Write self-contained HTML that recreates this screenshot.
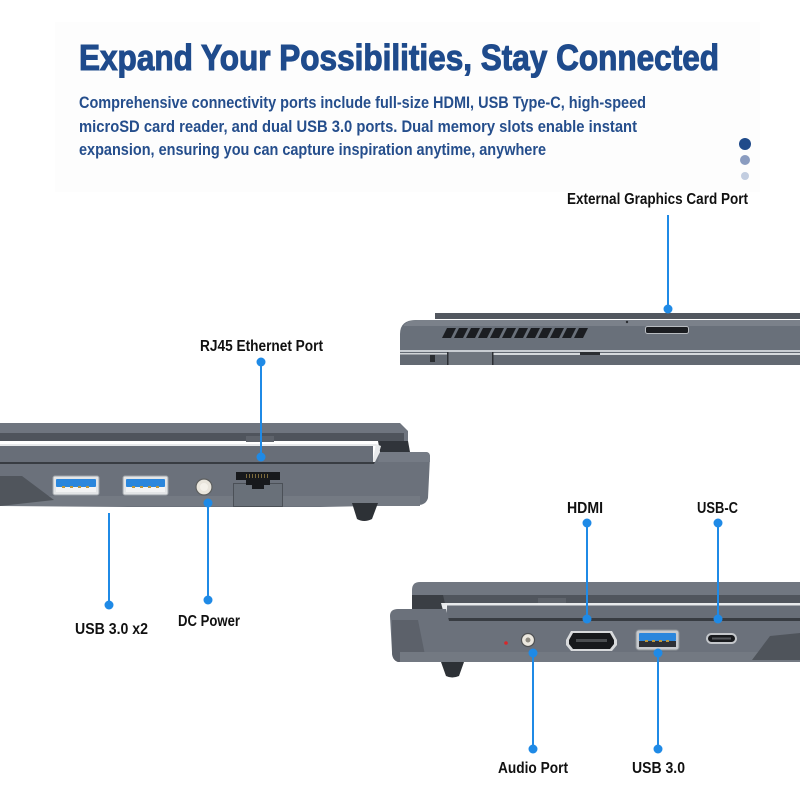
<!DOCTYPE html>
<html><head><meta charset="utf-8"><style>
html,body{margin:0;padding:0;background:#fff;}
svg{display:block;}
.t{font-family:"Liberation Sans",sans-serif;font-weight:bold;}
</style></head><body>
<svg width="800" height="800" viewBox="0 0 800 800" xmlns="http://www.w3.org/2000/svg">
<rect width="800" height="800" fill="#ffffff"/>
<rect x="55" y="22" width="705" height="170" fill="#fdfdfd"/>
<!-- Title -->
<text class="t" x="79" y="70" font-size="36" fill="#1f4b8c" stroke="#1f4b8c" stroke-width="1.1" textLength="640" lengthAdjust="spacingAndGlyphs">Expand Your Possibilities, Stay Connected</text>
<text class="t" x="79" y="108" font-size="17" fill="#254e8c" textLength="567" lengthAdjust="spacingAndGlyphs">Comprehensive connectivity ports include full-size HDMI, USB Type-C, high-speed</text>
<text class="t" x="79" y="132" font-size="17" fill="#254e8c" textLength="558" lengthAdjust="spacingAndGlyphs">microSD card reader, and dual USB 3.0 ports. Dual memory slots enable instant</text>
<text class="t" x="79" y="155" font-size="17" fill="#254e8c" textLength="467" lengthAdjust="spacingAndGlyphs">expansion, ensuring you can capture inspiration anytime, anywhere</text>
<!-- dots -->
<circle cx="745" cy="144" r="6" fill="#1f4a8a"/>
<circle cx="745" cy="160" r="5" fill="#8a9cc0"/>
<circle cx="745" cy="176" r="4" fill="#c2cde0"/>

<!-- ===== Rear laptop (top right) ===== -->
<rect x="435" y="313" width="365" height="6" fill="#52575f"/>
<path d="M400,334 Q400,320 416,320 L800,320 L800,351 L400,351 Z" fill="#69707a"/>
<path d="M404,325 Q408,320 418,320 L800,320 L800,326 L404,326 Z" fill="#7b818a"/>
<rect x="400" y="350" width="400" height="2" fill="#c9cdd2"/>
<rect x="400" y="352" width="400" height="13" fill="#636972"/>
<rect x="448" y="352" width="45" height="13" fill="#70767e"/>
<rect x="493" y="353" width="307" height="2" fill="#d6d9dc"/>
<rect x="400" y="353" width="48" height="1.5" fill="#d0d3d6"/>
<rect x="447" y="352" width="1.5" height="13" fill="#2c2f34"/>
<rect x="492" y="352" width="1.5" height="13" fill="#2c2f34"/>
<rect x="430" y="355" width="5" height="7" fill="#2a2d31"/>
<rect x="580" y="352" width="20" height="3" fill="#2a2d31"/>
<g fill="#1b1d21">
<polygon points="447,328 456,328 451,338 442,338"/>
<polygon points="459,328 468,328 463,338 454,338"/>
<polygon points="471,328 480,328 475,338 466,338"/>
<polygon points="483,328 492,328 487,338 478,338"/>
<polygon points="495,328 504,328 499,338 490,338"/>
<polygon points="507,328 516,328 511,338 502,338"/>
<polygon points="519,328 528,328 523,338 514,338"/>
<polygon points="531,328 540,328 535,338 526,338"/>
<polygon points="543,328 552,328 547,338 538,338"/>
<polygon points="555,328 564,328 559,338 550,338"/>
<polygon points="567,328 576,328 571,338 562,338"/>
<polygon points="579,328 588,328 583,338 574,338"/>
</g>
<rect x="645.5" y="326.5" width="43" height="7" rx="2" fill="#1b1d21" stroke="#b8bcc1" stroke-width="1"/>
<circle cx="627" cy="322" r="1.2" fill="#2a2d31"/>

<!-- ===== Left laptop (side) ===== -->
<path d="M0,423 L400,423 L408,431 L408,441 L0,441 Z" fill="#6f757f"/>
<rect x="0" y="433" width="404" height="8" fill="#4f545c"/>
<rect x="246" y="436" width="28" height="6" fill="#5e636b"/>
<path d="M378,441 L408,441 L410,452 L380,452 Z" fill="#30343a"/>
<rect x="0" y="444" width="376" height="2" fill="#e8eaec"/>
<path d="M376,444 L381,446 L376,464 L372,464 Z" fill="#e8eaec"/>
<rect x="0" y="446" width="373" height="16" fill="#686e78"/>
<rect x="0" y="462" width="375" height="2.5" fill="#383c42"/>
<path d="M0,464 L374,464 L380,452 L426,452 Q430,452 430,457 L428,498 Q426,505 418,505 L320,507 L130,507 L0,506 Z" fill="#6b717b"/>
<path d="M380,452 L426,452 Q430,452 430,457 L430,462 L378,462 Z" fill="#757b85"/>
<rect x="0" y="496" width="420" height="10" fill="#747a83"/>
<path d="M0,476 L22,476 L54,500 L0,506 Z" fill="#50555c"/>
<path d="M352,503 L378,503 L372,519 Q364,523 357,519 Z" fill="#2d3136"/>
<!-- USB ports -->
<g>
<rect x="53" y="476" width="46" height="19" rx="2" fill="#e3e5e7" stroke="#9ea3a8" stroke-width="1"/>
<rect x="56" y="479" width="40" height="8" rx="1" fill="#2a86dc"/>
<rect x="56" y="487" width="40" height="5" fill="#f2f3f4"/>
<g fill="#b8963e"><rect x="62" y="486" width="3" height="2"/><rect x="70" y="486" width="3" height="2"/><rect x="78" y="486" width="3" height="2"/><rect x="86" y="486" width="3" height="2"/></g>
<rect x="123" y="476" width="45" height="19" rx="2" fill="#e3e5e7" stroke="#9ea3a8" stroke-width="1"/>
<rect x="126" y="479" width="39" height="8" rx="1" fill="#2a86dc"/>
<rect x="126" y="487" width="39" height="5" fill="#f2f3f4"/>
<g fill="#b8963e"><rect x="132" y="486" width="3" height="2"/><rect x="140" y="486" width="3" height="2"/><rect x="148" y="486" width="3" height="2"/><rect x="156" y="486" width="3" height="2"/></g>
</g>
<circle cx="204" cy="487" r="8" fill="#e9e5dc" stroke="#5d5f5f" stroke-width="1.2"/>
<circle cx="204" cy="487" r="4" fill="#f4f1ea"/>
<!-- RJ45 -->
<rect x="233.5" y="483.5" width="49" height="23" fill="#697079" stroke="#4b5057" stroke-width="1"/>
<path d="M236,472 L280,472 L280,480 L270,480 L270,485 L264,485 L264,489 L252,489 L252,485 L246,485 L246,480 L236,480 Z" fill="#17191c"/>
<g fill="#7b6a3c"><rect x="246" y="474" width="1" height="4"/><rect x="249" y="474" width="1" height="4"/><rect x="252" y="474" width="1" height="4"/><rect x="255" y="474" width="1" height="4"/><rect x="258" y="474" width="1" height="4"/><rect x="261" y="474" width="1" height="4"/><rect x="264" y="474" width="1" height="4"/><rect x="267" y="474" width="1" height="4"/></g>

<!-- ===== Bottom right laptop ===== -->
<path d="M412,590 Q412,582 420,582 L800,582 L800,604 L412,604 Z" fill="#717781"/>
<rect x="412" y="595" width="388" height="9" fill="#50555d"/>
<rect x="538" y="598" width="28" height="7" fill="#5e636b"/>
<path d="M412,595 L443,595 L447,612 L412,612 Z" fill="#3a3e44"/>
<rect x="443" y="603" width="357" height="2.5" fill="#e8eaec"/>
<path d="M441,603 L446,603 L449,618 L445,618 Z" fill="#e8eaec"/>
<rect x="447" y="605.5" width="353" height="13" fill="#686e78"/>
<rect x="447" y="618" width="353" height="3" fill="#383c42"/>
<path d="M390,616 Q390,609 398,609 L446,609 L449,621 L800,621 L800,662 L398,662 Q392,660 392,652 Z" fill="#6b717b"/>
<path d="M392,620 L418,620 L426,660 L398,662 Q392,660 392,652 Z" fill="#5c616a"/>
<rect x="400" y="652" width="400" height="10" fill="#737982"/>
<path d="M770,636 L800,633 L800,660 L752,660 Z" fill="#4f545b"/>
<path d="M441,662 L464,662 L459,676 Q452,679 446,676 Z" fill="#2d3136"/>
<circle cx="506" cy="643" r="1.8" fill="#d8262a"/>
<circle cx="528" cy="640" r="6.5" fill="#ece8df" stroke="#4e5052" stroke-width="1.2"/>
<circle cx="528" cy="640" r="2.5" fill="#8e8a80"/>
<!-- HDMI -->
<path d="M571,631 L612,631 L617,640 L617,645 L612,651 L571,651 L566,645 L566,640 Z" fill="#d8dadc"/>
<path d="M573,633 L610,633 L614,640 L614,644 L610,649 L573,649 L569,644 L569,640 Z" fill="#17191c"/>
<rect x="576" y="639" width="31" height="3" fill="#4a4d50"/>
<!-- USB 3.0 -->
<rect x="636" y="630" width="43" height="20" rx="3" fill="#c7cace" stroke="#8d9297" stroke-width="1"/>
<rect x="639" y="633" width="37" height="8" rx="1" fill="#2a86dc"/>
<rect x="639" y="641" width="37" height="6" fill="#2d3036"/>
<g fill="#b8963e"><rect x="645" y="640" width="3" height="2"/><rect x="652" y="640" width="3" height="2"/><rect x="659" y="640" width="3" height="2"/><rect x="666" y="640" width="3" height="2"/></g>
<!-- USB-C -->
<rect x="706" y="633" width="31" height="11" rx="5.5" fill="#c4c7cb"/>
<rect x="708" y="635" width="27" height="7" rx="3.5" fill="#17191c"/>
<rect x="712" y="637.5" width="19" height="2" fill="#55585c"/>

<!-- ===== Connectors ===== -->
<g stroke="#1f8ae6" stroke-width="2" fill="none">
<line x1="668" y1="215" x2="668" y2="309"/>
<line x1="261" y1="362" x2="261" y2="457"/>
<line x1="109" y1="513" x2="109" y2="605"/>
<line x1="208" y1="503" x2="208" y2="600"/>
<line x1="587" y1="523" x2="587" y2="619"/>
<line x1="718" y1="523" x2="718" y2="619"/>
<line x1="533" y1="653" x2="533" y2="749"/>
<line x1="658" y1="653" x2="658" y2="749"/>
</g>
<g fill="#1f8ae6">
<circle cx="668" cy="309" r="4.5"/>
<circle cx="261" cy="362" r="4.5"/><circle cx="261" cy="457" r="4.5"/>
<circle cx="109" cy="605" r="4.5"/>
<circle cx="208" cy="503" r="4.5"/><circle cx="208" cy="600" r="4.5"/>
<circle cx="587" cy="523" r="4.5"/><circle cx="587" cy="619" r="4.5"/>
<circle cx="718" cy="523" r="4.5"/><circle cx="718" cy="619" r="4.5"/>
<circle cx="533" cy="653" r="4.5"/><circle cx="533" cy="749" r="4.5"/>
<circle cx="658" cy="653" r="4.5"/><circle cx="658" cy="749" r="4.5"/>
</g>

<!-- ===== Labels ===== -->
<g class="t" font-size="16" fill="#111111">
<text x="567" y="204" textLength="181" lengthAdjust="spacingAndGlyphs">External Graphics Card Port</text>
<text x="200" y="351" textLength="123" lengthAdjust="spacingAndGlyphs">RJ45 Ethernet Port</text>
<text x="75" y="634" textLength="73" lengthAdjust="spacingAndGlyphs">USB 3.0 x2</text>
<text x="178" y="626" textLength="62" lengthAdjust="spacingAndGlyphs">DC Power</text>
<text x="567" y="513" textLength="36" lengthAdjust="spacingAndGlyphs">HDMI</text>
<text x="697" y="513" textLength="41" lengthAdjust="spacingAndGlyphs">USB-C</text>
<text x="498" y="773" textLength="70" lengthAdjust="spacingAndGlyphs">Audio Port</text>
<text x="632" y="773" textLength="53" lengthAdjust="spacingAndGlyphs">USB 3.0</text>
</g>
</svg>
</body></html>
